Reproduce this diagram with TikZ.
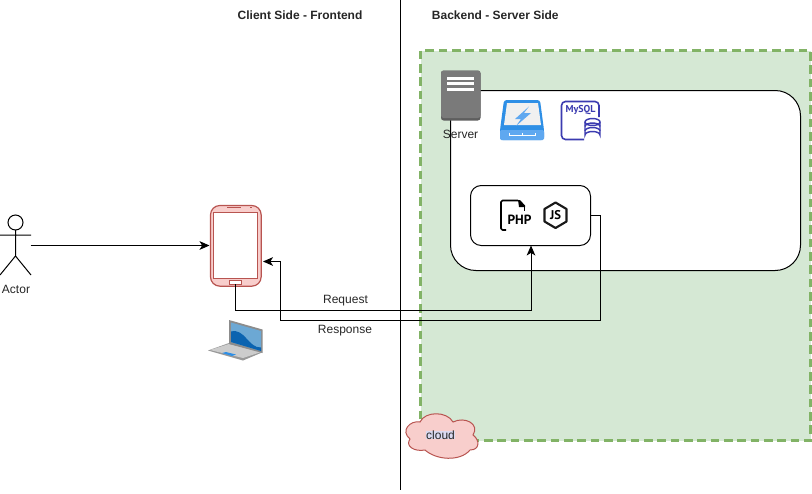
\documentclass[tikz,border=0pt]{standalone}
\usepackage{fontspec}
\setmainfont{Liberation Sans}
\newfontfamily\iconfont{PT Sans}
\usetikzlibrary{arrows.meta}
\definecolor{greenfill}{HTML}{D5E8D4}
\definecolor{greenline}{HTML}{82B366}
\definecolor{redfill}{HTML}{F8CECC}
\definecolor{redline}{HTML}{B85450}
\definecolor{lav}{HTML}{DAD9F0}
\definecolor{srv}{HTML}{7A7A7A}
\definecolor{srvd}{HTML}{5E5E5E}
\definecolor{bluea}{HTML}{2E8FE6}
\definecolor{blueb}{HTML}{5FA8F0}
\definecolor{mysql}{HTML}{3B3BB0}
\definecolor{lapl}{HTML}{6CA8D4}
\definecolor{lapd}{HTML}{0A63B0}
\tikzset{
  lbl/.style={font=\fontsize{9pt}{11pt}\selectfont,text=black!85,inner sep=0pt},
  title/.style={font=\fontsize{9pt}{11pt}\selectfont\bfseries,text=black!85,inner sep=0pt},
  conn/.style={draw=black,line width=0.75pt,-{Stealth[length=7.5pt,width=6.5pt,inset=2pt]}},
  box/.style={draw=black,line width=0.75pt,fill=white,rounded corners=#1,inner sep=0pt,outer sep=0pt},
}
\begin{document}
\begin{tikzpicture}[x=0.75pt,y=-0.75pt]
\useasboundingbox (0,0) rectangle (812,493);
% divider
\draw[line width=0.75pt] (400.5,0) -- (400.5,490);
\node[title] (client) at (300,15) {Client Side - Frontend};
\node[title] (backend) at (495.3,15) {Backend - Server Side};
% green zone
\draw[fill=greenfill,draw=greenline,line width=2.5pt,dash pattern=on 6.5pt off 3.5pt] (420.5,50.5) rectangle (810.5,440.5);
% boxes
\node[box=19pt,minimum width=262.5pt,minimum height=135pt,anchor=north west] (server-box) at (450.5,90.5) {};
\node[box=8pt,minimum width=90pt,minimum height=45pt,anchor=north west] (code-box) at (470.5,185.5) {};
% server
\fill[srvd,rounded corners=2pt] (441,70.5) rectangle (480.5,120.5);
\fill[srv,rounded corners=2pt] (441,70.5) rectangle (480.5,118);
\foreach \yy in {78,83,89}{\fill[white] (447,\yy-1.5) rectangle (474,\yy+1.5);}
\node[lbl] (server-label) at (460.5,134) {Server};
% blue storage icon
\fill[bluea,rounded corners=2pt] (504,100) -- (540,100) -- (544,130) -- (544,140) -- (500,140) -- (500,130) -- cycle;
\fill[blueb,rounded corners=1pt] (500,130) -- (544,130) -- (544,140) -- (500,140) -- cycle;
\fill[black!6] (507,103) -- (538,103) -- (541,125) -- (504,125) -- cycle;
\fill[blueb] (529,106.5) -- (515,119) -- (521,119) -- (516,126) -- (531,113) -- (524,113) -- cycle;
\draw[white,line width=0.7pt] (509,132.5) -- (509,135.5) -- (535,135.5) -- (535,132.5);
\draw[white,line width=0.7pt] (522,133) -- (522,135.5);
% mysql icon
\draw[mysql,line width=1.2pt,rounded corners=3pt] (584,139.5) -- (561.5,139.5) -- (561.5,101.5) -- (599,101.5) -- (599,117);
\node[inner sep=0pt,text=mysql,font=\iconfont\fontsize{7.5pt}{8pt}\selectfont\bfseries] (mysql-text) at (580.5,110.5) {MySQL};
\draw[mysql,line width=1.1pt,fill=white] (585,122) -- (585,135) arc[start angle=180,end angle=360,x radius=7.5,y radius=3.5] -- (600,122);
\draw[mysql,line width=1.1pt,fill=white] (592.5,122) ellipse[x radius=7.5,y radius=3.5];
\draw[mysql,line width=1.1pt] (585,126.5) arc[start angle=180,end angle=360,x radius=7.5,y radius=3.5];
\draw[mysql,line width=1.1pt] (585,131) arc[start angle=180,end angle=360,x radius=7.5,y radius=3.5];
% php icon
\draw[black,line width=1.2pt,line join=round] (506,230) -- (502.5,230) -- (501,228.5) -- (501,202) -- (502.5,200.5) -- (518,200.5);
\fill[black] (518,200) -- (520,200) -- (525,205.5) -- (525,207) -- (519,207) -- cycle;
\draw[black,line width=1.2pt] (524.5,205) -- (524.5,211);
\node[inner sep=0pt,font=\iconfont\fontsize{10pt}{10pt}\selectfont\bfseries] (php-text) at (519.5,220) {PHP};
% js icon
\draw[black!90,line width=1.6pt,line join=round] (555.5,202.5) -- (566.5,209) -- (566.5,221.5) -- (555.5,228) -- (544.5,221.5) -- (544.5,209) -- cycle;
\node[inner sep=0pt,font=\iconfont\fontsize{9.5pt}{10pt}\selectfont\bfseries] (js-text) at (555.5,215.5) {JS};
% actor
\draw[line width=0.75pt] (15.5,222.5) circle[radius=7.5];
\draw[line width=0.75pt] (15.5,230) -- (15.5,256) (0,235) -- (31,235) (0,275) -- (15.5,256) -- (31,275);
\coordinate (actor) at (30.5,245.5);
\node[lbl] (actor-label) at (16,289) {Actor};
% phone
\node[draw=redline,fill=redfill,line width=0.9pt,rounded corners=7pt,minimum width=38pt,minimum height=60.5pt,anchor=north west,inner sep=0pt,outer sep=0pt] (phone) at (210.5,205.5) {};
\node[draw=redline,fill=white,line width=0.75pt,minimum width=33.5pt,minimum height=49.5pt,anchor=north west,inner sep=0pt,outer sep=0pt] (screen) at (213,212) {};
\node[draw=redline,fill=white,line width=0.6pt,minimum width=9.5pt,minimum height=2.5pt,inner sep=0pt,outer sep=0pt,anchor=center] (button) at (235.5,282.5) {};
\draw[redline,line width=0.8pt] (227,207.7) -- (241,207.7) (250,207.7) -- (252,207.7);
\coordinate (phone-in) at (209.5,245.5);
\coordinate (phone-right) at (263,261.5);
% laptop
\fill[black!40] (229,343) -- (208,350.5) -- (243,360.5) -- (262,352.5) -- cycle;
\fill[black!20] (229,344) -- (210,350) -- (243,358) -- (261,352) -- cycle;
\fill[bluea] (226,352) -- (222,353) -- (232,356) -- (236,354.5) -- cycle;
\fill[black!45] (229,320) -- (262.5,329.5) -- (262.5,353) -- (229,344) -- cycle;
\fill[lapl] (231,322.5) -- (261,331) -- (261,351) -- (231,342) -- cycle;
\fill[lapd] (231,331.5) .. controls (245,328) and (248,348) .. (261,347.5) -- (261,351) -- (231,342) -- cycle;
% connectors
\coordinate (req-corner1) at (235.5,310.5);
\coordinate (req-corner2) at (531,310.5);
\draw[conn] (button.south) -- (req-corner1) -- (req-corner2) -- (531,245.5);
\coordinate (resp1) at (600.5,215.5);
\coordinate (resp2) at (600.5,320.5);
\coordinate (resp3) at (280.5,320.5);
\coordinate (resp4) at (280.5,261.5);
\draw[conn] (code-box.east) -- (resp1) -- (resp2) -- (resp3) -- (resp4) -- (phone-right);
\draw[conn] (actor) -- (phone-in);
\node[lbl] (request) at (345.5,301) {Request};
\node[lbl] (response) at (345,331) {Response};
% cloud
\draw[fill=redfill,draw=redline,line width=0.75pt] (420,422) .. controls (425,411) and (447,411) .. (453,422) .. controls (465,416) and (480,424) .. (473,435) .. controls (480,440) and (480,450) .. (470,450) .. controls (460,462) and (436,460) .. (425,450) .. controls (414,452) and (405,446) .. (410,439) .. controls (400,431) and (410,420) .. (420,422) -- cycle;
\node[lbl,fill=lav] (cloud) at (440.5,435) {cloud};
\end{tikzpicture}
\end{document}
